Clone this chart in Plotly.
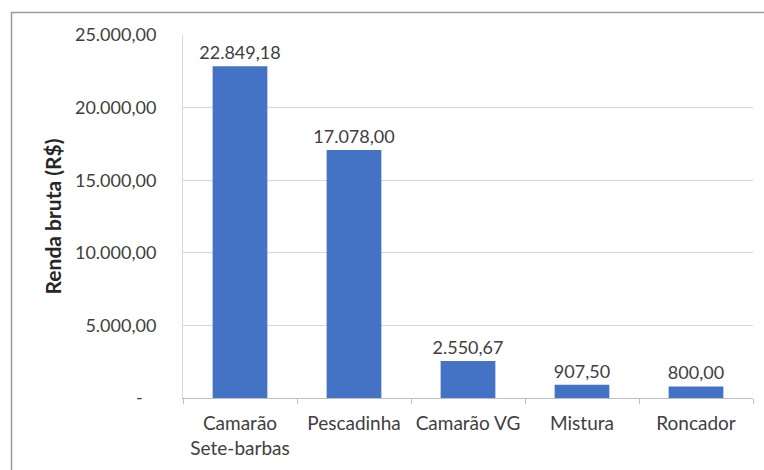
import plotly.graph_objects as go

# Gross income by species caught
categories = ["Camarão<br>Sete-barbas", "Pescadinha", "Camarão VG", "Mistura", "Roncador"]
renda = [22849.18, 17078.00, 2550.67, 907.50, 800.00]

y_ticks = [0, 5000, 10000, 15000, 20000, 25000]


def br_format(v):
    """Brazilian number format: 22.849,18; zero shown as a dash."""
    if v == 0:
        return "-"
    s = f"{v:,.2f}"
    return s.replace(",", "X").replace(".", ",").replace("X", ".")


y_tick_text = [br_format(v) if v else "-\u00a0\u00a0\u00a0" for v in y_ticks]
bar_labels = [br_format(v) for v in renda]

FONT = "Lato, 'Open Sans', sans-serif"
TEXT_COLOR = "#404040"
FS = 18

W, H = 764, 470
L, R, T, B = 183, 11, 35, 72
plot_w = W - L - R
plot_h = H - T - B


def px_x(x):
    return (x - L) / plot_w


def px_y(y):
    return (H - B - y) / plot_h


fig = go.Figure(
    go.Bar(
        x=categories,
        y=renda,
        marker=dict(color="#4472C4", line=dict(width=0)),
        text=bar_labels,
        textposition="outside",
        constraintext="none",
        cliponaxis=False,
        textfont=dict(family=FONT, size=FS, color=TEXT_COLOR),
        width=0.48,
    )
)

fig.update_layout(
    width=W,
    height=H,
    margin=dict(l=L, r=R, t=T, b=B),
    paper_bgcolor="white",
    plot_bgcolor="white",
    showlegend=False,
    font=dict(family=FONT, size=FS, color=TEXT_COLOR),
    shapes=[
        # chart frame
        dict(
            type="rect",
            xref="paper",
            yref="paper",
            x0=px_x(11.5),
            x1=px_x(790),
            y0=px_y(500),
            y1=px_y(12.5),
            line=dict(color="#9a9a9a", width=1.5),
            fillcolor="rgba(0,0,0,0)",
            layer="below",
        )
    ],
)

fig.update_xaxes(
    showgrid=False,
    showline=True,
    linecolor="#bfbfbf",
    linewidth=1,
    ticks="outside",
    tickson="boundaries",
    ticklen=5,
    tickcolor="#bfbfbf",
    ticklabelstandoff=8,
    tickfont=dict(family=FONT, size=19, color=TEXT_COLOR),
    fixedrange=True,
)

fig.update_yaxes(
    range=[0, 25000],
    tickvals=y_ticks,
    ticktext=y_tick_text,
    showgrid=True,
    gridcolor="#d9d9d9",
    gridwidth=1,
    zeroline=False,
    showline=True,
    linecolor="#d9d9d9",
    ticks="",
    ticklabelstandoff=22,
    tickfont=dict(family=FONT, size=FS, color=TEXT_COLOR),
    title=dict(
        text="<b>Renda bruta (R$)</b>",
        font=dict(family=FONT, size=21, color="#262626"),
        standoff=7,
    ),
    fixedrange=True,
)

fig.write_html("out.html")
